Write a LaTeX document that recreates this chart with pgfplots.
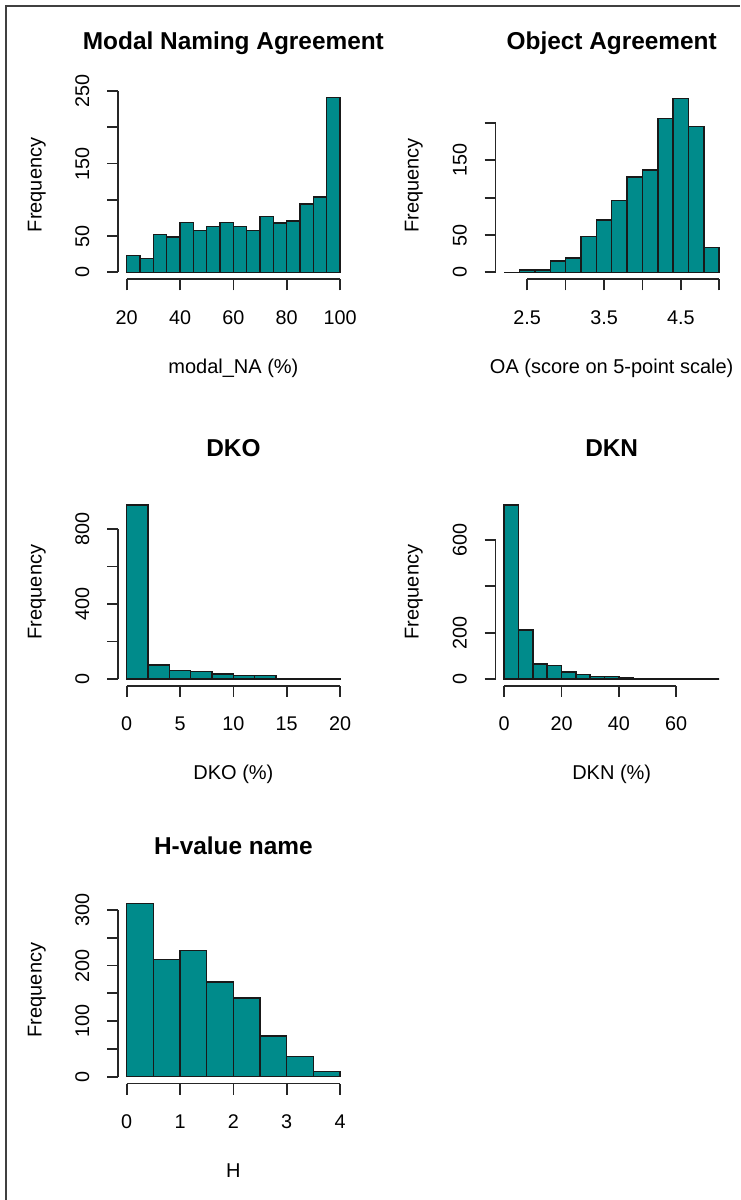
\documentclass[border=0pt]{standalone}
\usepackage{pgfplots}
\pgfplotsset{compat=1.18}
\usepackage{fontspec}
\setmainfont{Liberation Sans}
\definecolor{rteal}{HTML}{008B8B}
\newcommand{\lbl}{\fontsize{9.9}{11.8}\selectfont}
\tikzset{axl/.style={line width=0.85pt, black!85}}
\pgfplotsset{
  Rhist/.style={
    scale only axis,
    anchor=south west,
    clip=false,
    axis line style={draw=none},
    tick pos=left,
    tick align=outside,
    major tick length=5.5pt,
    minor tick num=0,
    every tick/.style={black!85, line width=0.85pt},
    /pgf/number format/assume math mode=true,
    tick label style={font=\lbl},
    label style={font=\lbl},
    xticklabel style={anchor=base},
    xticklabel shift=17pt,
    yticklabel style={rotate=90, anchor=base},
    yticklabel shift=9pt,
    every axis title/.style={at={(axis description cs:0.5,1)}, anchor=base, yshift=20.75pt, font=\bfseries\fontsize{12.2}{14}\selectfont},
    every axis x label/.style={at={(axis description cs:0.5,0)}, anchor=base, yshift=-47pt},
    every axis y label/.style={at={(axis description cs:-0.332,0.5)}, rotate=90, anchor=base},
    ylabel={Frequency},
  },
  histbar/.style={ybar interval, fill=rteal, draw=black!90, line width=0.75pt, mark=none},
}
\begin{document}
\begin{tikzpicture}
\useasboundingbox (0,0) rectangle (370pt,600pt);
\draw[line width=1pt, black!75] (3pt,0) -- (3pt,597pt) -- (370pt,597pt);

% Panel 1
\begin{axis}[Rhist, at={(59.1pt,460.35pt)}, width=115.2pt, height=94.35pt,
  xmin=16.8, xmax=103.2, ymin=-9.64, ymax=250.64,
  title={Modal Naming Agreement}, xlabel={modal\_NA (\%)},
  xtick={20,40,60,80,100}, xticklabels={20,40,60,80,100},
  ytick={0,50,100,150,200,250}, yticklabels={0,50,,150,,250}]
\addplot[histbar] coordinates {(20,23)(25,19)(30,52)(35,49)(40,69)(45,58)(50,63)(55,69)(60,63)(65,58)(70,77)(75,68)(80,71)(85,94)(90,104)(95,241)(100,241)};
\draw[axl] (axis cs:20,-9.64) -- (axis cs:100,-9.64);
\draw[axl] (axis cs:16.8,0) -- (axis cs:16.8,250);
\end{axis}

% Panel 2
\begin{axis}[Rhist, at={(247.8pt,460.35pt)}, width=116.1pt, height=93.95pt,
  xmin=2.088, xmax=5.112, ymin=-9.32, ymax=242.32,
  every axis y label/.style={at={(axis description cs:-0.331,0.5)}, rotate=90, anchor=base},
  title={Object Agreement}, xlabel={OA (score on 5-point scale)},
  xtick={2.5,3,3.5,4,4.5,5}, xticklabels={2.5,,3.5,,4.5,},
  ytick={0,50,100,150,200}, yticklabels={0,50,,150,}]
\addplot[histbar] coordinates {(2.2,0)(2.4,3)(2.6,3)(2.8,15)(3.0,19)(3.2,48)(3.4,70)(3.6,96)(3.8,128)(4.0,137)(4.2,206)(4.4,233)(4.6,195)(4.8,33)(5.0,33)};
\draw[axl] (axis cs:2.5,-9.32) -- (axis cs:5,-9.32);
\draw[axl] (axis cs:2.088,0) -- (axis cs:2.088,200);
\end{axis}

% Panel 3
\begin{axis}[Rhist, at={(59.1pt,257pt)}, width=115.2pt, height=94pt,
  xmin=-0.8, xmax=20.8, ymin=-37.12, ymax=965.12,
  title={DKO}, xlabel={DKO (\%)},
  xtick={0,5,10,15,20}, xticklabels={0,5,10,15,20},
  ytick={0,200,400,600,800}, yticklabels={0,,400,,800}]
\addplot[histbar] coordinates {(0,928)(2,75)(4,46)(6,39)(8,27)(10,20)(12,20)(14,2)(16,1)(18,1)(20,1)};
\draw[axl] (axis cs:0,-37.12) -- (axis cs:20,-37.12);
\draw[axl] (axis cs:-0.8,0) -- (axis cs:-0.8,800);
\end{axis}

% Panel 4
\begin{axis}[Rhist, at={(247.8pt,257pt)}, width=116.1pt, height=94pt,
  xmin=-3, xmax=78, ymin=-30.04, ymax=781.04,
  every axis y label/.style={at={(axis description cs:-0.331,0.5)}, rotate=90, anchor=base},
  title={DKN}, xlabel={DKN (\%)},
  xtick={0,20,40,60}, xticklabels={0,20,40,60},
  ytick={0,200,400,600}, yticklabels={0,200,,600}]
\addplot[histbar] coordinates {(0,751)(5,211)(10,65)(15,59)(20,30)(25,20)(30,10)(35,10)(40,4)(45,3)(50,3)(55,0)(60,0)(65,0)(70,0)(75,0)};
\draw[axl] (axis cs:0,-30.04) -- (axis cs:60,-30.04);
\draw[axl] (axis cs:-3,0) -- (axis cs:-3,600);
\end{axis}

% Panel 5
\begin{axis}[Rhist, at={(59.1pt,58.2pt)}, width=115.2pt, height=93.6pt,
  xmin=-0.16, xmax=4.16, ymin=-12.48, ymax=324.48,
  title={H-value name}, xlabel={H},
  xtick={0,1,2,3,4}, xticklabels={0,1,2,3,4},
  ytick={0,50,100,150,200,250,300}, yticklabels={0,,100,,200,,300}]
\addplot[histbar] coordinates {(0,312)(0.5,211)(1,227)(1.5,170)(2,142)(2.5,73)(3,36)(3.5,9)(4,9)};
\draw[axl] (axis cs:0,-12.48) -- (axis cs:4,-12.48);
\draw[axl] (axis cs:-0.16,0) -- (axis cs:-0.16,300);
\end{axis}
\end{tikzpicture}
\end{document}
